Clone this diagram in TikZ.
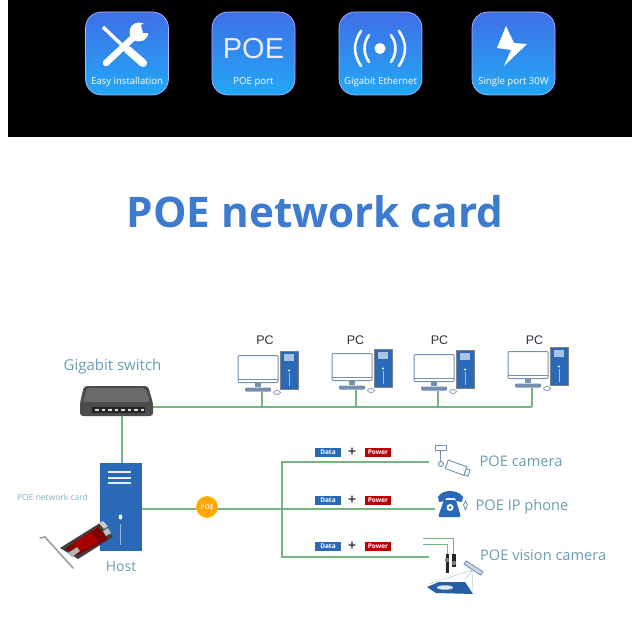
\documentclass[tikz,border=0pt]{standalone}
\usepackage{fontspec}
\setmainfont{Open Sans}
\newfontfamily\arialfont{Liberation Sans}
\usetikzlibrary{calc}
\definecolor{wire}{HTML}{78B483}
\definecolor{hostblue}{HTML}{2A68B8}
\definecolor{labelteal}{HTML}{6A9DB2}
\definecolor{titleblue}{HTML}{3C7BD0}
\definecolor{iconline}{HTML}{7490AE}
\definecolor{badgetop}{HTML}{3F6FE8}
\definecolor{badgebot}{HTML}{22A8F5}
\newcommand{\fsz}[1]{\fontsize{#1}{#1}\selectfont}
\tikzset{
  x=1pt, y=-1pt,
  wireline/.style={draw=wire, line width=1.4pt},
  badgebox/.style={draw=white!70!blue, line width=0.7pt, rounded corners=16pt, top color=badgetop, bottom color=badgebot},
  badgetext/.style={text=white, inner sep=0pt, font=\fsz{9.6}},
  devlabel/.style={text=labelteal, inner sep=0pt, anchor=west, font=\fsz{14.6}},
  tagbox/.style={minimum width=26pt, minimum height=9pt, inner sep=0pt, text=white, font=\fsz{6.5}\bfseries},
  plussign/.style={inner sep=0pt, font=\fsz{14}\bfseries, text=black!75},
  pc/.pic={
    % monitor, stand, keyboard, mouse and tower of one desktop computer
    \draw[iconline, line width=1pt, fill=white, rounded corners=1pt] (0,0) rectangle (40,27);
    \draw[iconline, line width=1pt] (0,24) -- (40,24);
    \fill[iconline] (17,27) rectangle (23,31);
    \fill[iconline, rounded corners=1pt] (7,32) rectangle (33,36);
    \draw[iconline, line width=0.7pt, fill=white] (39,37) ellipse (3.5 and 2);
    \fill[hostblue, draw=black!50] (42,-4.5) rectangle (60,34);
    \fill[white!60!hostblue] (46,-1.5) rectangle (56,5);
    \fill[white] (51,15) circle (1.2);
    \draw[white!60!hostblue, line width=0.4pt] (51,17) -- (51,30);
    \coordinate (-base) at (24,36);
  },
  tagpair/.pic={
    % Data + Power pair above one branch
    \node[tagbox, fill=hostblue] (-data) at (13,4.5) {Data};
    \node[plussign] (-plus) at (37,4.5) {+};
    \node[tagbox, fill=red!72!black] (-power) at (63,4.5) {Power};
  },
}
\begin{document}
\begin{tikzpicture}
\useasboundingbox (0,0) rectangle (640,623);
\fill[white] (0,0) rectangle (640,623);

% top banner
\fill[black] (8,0) rectangle (632,137);
\foreach \bx/\bl in {85.5/bada,212/badb,339/badc,472/badd}
  \draw[badgebox] (\bx,12) rectangle ++(83,83);

% tools badge: crossed screwdriver and wrench
\draw[white, line width=3.4pt] (103,27) -- (126,49);
\draw[white, line width=8pt, line cap=round] (128,50) -- (143,63);
\draw[white, line width=6.5pt, line cap=round] (106,63) -- (136,35);
\fill[white] (139,32) circle (9.5);
\fill[badgetop!85!badgebot] (141,25) -- (150,21) -- (153,33) -- (143,33) -- cycle;
\node[badgetext] (easy) at (127,82) {Easy installation};

% POE badge
\node[inner sep=0pt, text=white!92!blue, font=\fsz{29}\arialfont] (poebig) at (253.5,49) {POE};
\node[badgetext] (poeport) at (253.5,82) {POE port};

% signal badge
\fill[white] (380,48.5) circle (5.5);
\draw[white, line width=2.5pt, line cap=round] (361,31) .. controls (353,43) and (353,54) .. (361,66);
\draw[white, line width=2.5pt, line cap=round] (369,35) .. controls (363,44) and (363,53) .. (369,62);
\draw[white, line width=2.5pt, line cap=round] (399,31) .. controls (407,43) and (407,54) .. (399,66);
\draw[white, line width=2.5pt, line cap=round] (391,35) .. controls (397,44) and (397,53) .. (391,62);
\node[badgetext] (gige) at (380.5,82) {Gigabit Ethernet};

% lightning badge
\fill[white] (506,26) -- (497,48) -- (511,50) -- (504,66) -- (527,44) -- (514,43) -- cycle;
\node[badgetext] (single) at (513.5,82) {Single port 30W};

% heading
\node[inner sep=0pt, text=titleblue, font=\fsz{42.2}\bfseries] (heading) at (315,212) {POE network card};

% desktop computers
\foreach \nm/\px/\py in {pca/238/355.5, pcb/332/353.5, pcc/414/354.5, pcd/508/351.5}
  \pic (\nm) at (\px,\py) {pc};
\foreach \nm/\px/\py in {lpa/265/340.5, lpb/355.5/340.5, lpc/439.5/340.5, lpd/534.5/340.5}
  \node[inner sep=0pt, font=\fsz{12.5}\arialfont, text=black!80] (\nm) at (\px,\py) {PC};

% switch
\node[inner sep=0pt, minimum width=73pt, minimum height=30pt] (switch) at (116.5,401) {};
\fill[black!70, rounded corners=3pt] (84,386) -- (148,386) -- (153,403) -- (153,416) -- (80,416) -- (80,403) -- cycle;
\fill[black!58, rounded corners=2pt] (87,388) -- (145,388) -- (150,402) -- (83,402) -- cycle;
\fill[black!85] (92,407) rectangle (145,413);
\foreach \pt in {95,101.5,...,143} \fill[white!85!black] (\pt,409) rectangle ++(3.6,2.4);
\node[devlabel, anchor=center, font=\fsz{15}] (switchlabel) at (112.5,367) {Gigabit switch};

% host tower
\node[fill=hostblue, inner sep=0pt, minimum width=42pt, minimum height=88pt] (host) at (121,507) {};
\foreach \ly in {472,478,483} \draw[white!88!hostblue, line width=1.5pt] (108,\ly) -- (131,\ly);
\fill[white] (120.5,517) ellipse (1.8 and 2.6);
\draw[white!50!hostblue, line width=0.4pt] (120.5,524) -- (120.5,545);
\node[devlabel, anchor=center, font=\fsz{14}] (hostlabel) at (121,566.5) {Host};
\node[inner sep=0pt, text=labelteal!80, font=\fsz{8.5}] (cardlabel) at (52.5,497.5) {POE network card};

% expansion card beside the host
\draw[black!40, line width=1.5pt, line cap=round] (40,538) -- (45,537) -- (73,568);
\fill[black!75] (60,548) -- (100,523) -- (113,537) -- (78,559) -- cycle;
\fill[red!50!black] (65,549) -- (98,527) -- (108,539) -- (78,555) -- cycle;
\fill[red!65!black] (72,544) -- (90,532) -- (99,541) -- (82,551) -- cycle;
\fill[white!80!black] (99,523) -- (103,521) -- (108,526) -- (104,529) -- cycle;
\fill[black!25] (103,531) -- (108,528) -- (111,533) -- (106,536) -- cycle;
\fill[black!30] (68,553) -- (77,547) -- (80,551) -- (72,557) -- cycle;

% wiring: switch to computers
\coordinate (busend) at (pcd-base |- 0,407);
\draw[wireline] (switch.east |- 0,407) -- (busend);
\foreach \nm in {pca,pcb,pcc,pcd}
  \draw[wireline] (\nm-base) -- (\nm-base |- busend);
\draw[wireline] (122,416) -- (host.north -| 122,0);

% wiring: host to branches
\coordinate (camend) at (429,462);
\coordinate (phoneend) at (435,509);
\coordinate (visend) at (429,557);
\coordinate (fork) at (282,509);
\draw[wireline] (host.east |- fork) -- (phoneend);
\draw[wireline] (camend) -- (fork |- camend) -- (fork |- visend) -- (visend);
\node[circle, fill=orange!70!yellow, draw=orange!50!yellow, line width=0.8pt, minimum size=21pt, inner sep=0pt, text=white!85!orange, font=\fsz{6.5}\bfseries] (poedot) at (207,507) {POE};

% Data + Power tags
\pic (taga) at (315,448) {tagpair};
\pic (tagb) at (315,496) {tagpair};
\pic (tagc) at (315,542) {tagpair};

% PoE camera
\draw[iconline, line width=0.9pt, fill=white] (435,445.5) rectangle (446,450);
\draw[iconline, line width=0.9pt] (440,450) -- (440,462);
\draw[iconline, line width=0.9pt, fill=white] (441,464) circle (2.5);
\begin{scope}[shift={(457,468)}, rotate=-20]
  \draw[iconline, line width=0.9pt, fill=white] (-11,-4.5) rectangle (9,4.5);
  \draw[iconline, line width=0.9pt, fill=white] (9,-2.5) rectangle (13,4);
\end{scope}
\node[devlabel] (camlabel) at (479.5,461.5) {POE camera};

% IP phone
\fill[hostblue] (438,497) .. controls (442,489) and (458,489) .. (463,497) -- (462,502) -- (456,501) -- (455,498) -- (446,498) -- (445,501) -- (439,502) -- cycle;
\fill[hostblue, rounded corners=1.5pt] (444,500) -- (456,500) -- (461,517) -- (438,517) -- cycle;
\fill[white] (450,507.5) circle (3.5);
\fill[hostblue] (450,507.5) circle (1.5);
\draw[iconline, line width=0.8pt] (465.5,501) -- (467.5,505) -- (465.5,510) -- (463.5,505) -- cycle;
\node[devlabel] (phonelabel) at (475.5,506.5) {POE IP phone};

% vision camera rig
\draw[wire, line width=0.8pt] (423,538) -- (453,538) -- (453,554);
\draw[wire, line width=0.8pt] (423,544) -- (447,544) -- (447,554);
\fill[black!85] (445.5,554) rectangle (449,573);
\fill[black!85] (452,554) rectangle (456,567);
\fill[black!50] (447,560) circle (2.2);
\fill[black!50] (454,563) circle (2.2);
\draw[iconline!50, line width=0.5pt] (472,570) -- (429,584) (472,570) -- (465,580) (472,570) -- (473,591);
\fill[hostblue!90!black] (427,587) -- (439,582) -- (465,582) -- (473,594) -- (436,593) -- cycle;
\fill[white!85!hostblue] (445,587.5) ellipse (8 and 2.2);
\begin{scope}[shift={(473.5,568)}, rotate=-33]
  \draw[iconline, line width=0.8pt, fill=white!65!iconline] (-10,-2) rectangle (10,2);
\end{scope}
\node[devlabel] (vislabel) at (480,555.5) {POE vision camera};
\end{tikzpicture}
\end{document}
